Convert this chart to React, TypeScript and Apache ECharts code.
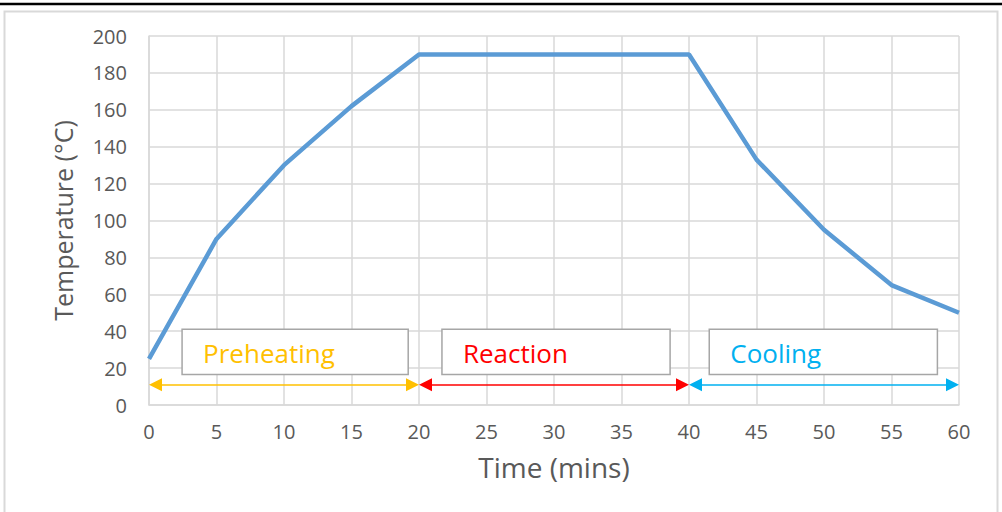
import React, { useEffect, useRef } from "react";
import * as echarts from "echarts";

const times = [0, 5, 10, 15, 20, 25, 30, 35, 40, 45, 50, 55, 60];
const temps = [25, 90, 130, 162, 190, 190, 190, 190, 190, 133, 95, 65, 50];
const phaseNames = ["Preheating", "Reaction", "Cooling"];
const phaseStart = [0, 20, 40];
const phaseEnd = [20, 40, 60];
const phaseColors = ["#FFC000", "#FF0000", "#00B0F0"];
const arrowLevel = 11;
const boxStartX = [2.45, 21.7, 41.5];
const boxEndX = [19.2, 38.6, 58.4];
const boxTop = 41;
const boxBottom = 16.5;

const FONT = "'Open Sans', 'Noto Sans', sans-serif";

export default function App() {
  const ref = useRef<HTMLDivElement>(null);
  useEffect(() => {
    if (!ref.current) return;
    const chart = echarts.init(ref.current, undefined, { renderer: "svg" });
    const gridLeft = 149, gridRight = 43, gridTop = 36, gridBottom = 107;
    const plotW = 1002 - gridLeft - gridRight;
    const plotH = 512 - gridTop - gridBottom;
    const px = (x: number) => gridLeft + (x / 60) * plotW;
    const py = (y: number) => gridTop + plotH - (y / 200) * plotH;
    const headLen = 13;
    const inset = (headLen / 2 / plotW) * 60;

    const boxes: any[] = [];
    phaseNames.forEach((n, i) => {
      const x0 = px(boxStartX[i]);
      const x1 = px(boxEndX[i]);
      const y0 = py(boxTop);
      const y1 = py(boxBottom);
      boxes.push({
        type: "rect",
        shape: { x: x0, y: y0, width: x1 - x0, height: y1 - y0 },
        style: { fill: "#ffffff", stroke: "#a6a6a6", lineWidth: 1.5 },
        z: 10,
      });
      boxes.push({
        type: "text",
        x: x0 + 21,
        y: (y0 + y1) / 2 + 1,
        style: {
          text: n,
          fill: phaseColors[i],
          font: `26px ${FONT}`,
          verticalAlign: "middle",
          align: "left",
        },
        z: 11,
      });
    });

    const arrowSeries = phaseNames.map((n, i) => ({
      type: "line",
      data: [],
      silent: true,
      markLine: {
        silent: true,
        animation: false,
        symbol: ["triangle", "triangle"],
        symbolSize: [13, headLen],
        label: { show: false },
        lineStyle: { color: phaseColors[i], width: 1.5, type: "solid" },
        data: [[
          { coord: [phaseStart[i] + inset, arrowLevel] },
          { coord: [phaseEnd[i] - inset, arrowLevel] },
        ]],
      },
    }));

    chart.setOption({
      animation: false,
      backgroundColor: "#ffffff",
      grid: { left: gridLeft, right: gridRight, top: gridTop, bottom: gridBottom },
      xAxis: {
        type: "value",
        min: 0,
        max: 60,
        interval: 5,
        name: "Time (mins)",
        nameLocation: "middle",
        nameGap: 48,
        nameTextStyle: { color: "#595959", fontSize: 28, fontFamily: FONT },
        axisLine: { show: true, lineStyle: { color: "#d9d9d9", width: 1.5 } },
        axisTick: { show: false },
        axisLabel: { color: "#595959", fontSize: 20, fontFamily: FONT, margin: 16 },
        splitLine: { show: true, lineStyle: { color: "#d9d9d9", width: 1.5 } },
      },
      yAxis: {
        type: "value",
        min: 0,
        max: 200,
        interval: 20,
        name: "Temperature (°C)",
        nameLocation: "middle",
        nameGap: 74,
        nameRotate: 90,
        nameTextStyle: { color: "#595959", fontSize: 25, fontFamily: FONT },
        axisLine: { show: true, lineStyle: { color: "#d9d9d9", width: 1.5 } },
        axisTick: { show: false },
        axisLabel: { color: "#595959", fontSize: 20, fontFamily: FONT, margin: 22 },
        splitLine: { show: true, lineStyle: { color: "#d9d9d9", width: 1.5 } },
      },
      graphic: [
        {
          type: "rect",
          shape: { x: 4.5, y: 11.5, width: 993, height: 520 },
          style: { fill: "none", stroke: "#d9d9d9", lineWidth: 2 },
          z: 0,
          silent: true,
        },
        {
          type: "line",
          shape: { x1: 0, y1: 4, x2: 1002, y2: 4 },
          style: { stroke: "#000000", lineWidth: 2.5 },
          silent: true,
        },
        ...boxes,
      ],
      series: [
        {
          type: "line",
          data: times.map((t, i) => [t, temps[i]]),
          showSymbol: false,
          symbol: "none",
          lineStyle: { color: "#5B9BD5", width: 4.5 },
          z: 5,
        },
        ...arrowSeries,
      ],
    });
    return () => chart.dispose();
  }, []);
  return (
    <div
      ref={ref}
      style={{ position: "absolute", left: 0, top: 0, width: 1002, height: 512 }}
    />
  );
}
